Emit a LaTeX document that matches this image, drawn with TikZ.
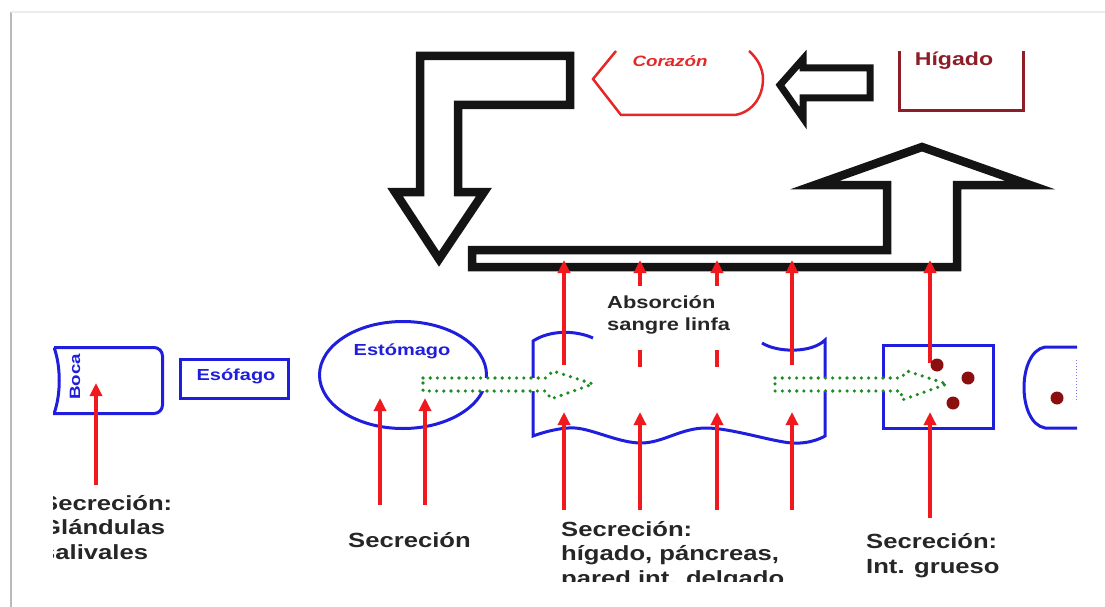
\documentclass[tikz,border=0pt]{standalone}
\usepackage{fontspec}
\setmainfont{Liberation Sans}[FakeStretch=1.25]
\usetikzlibrary{arrows.meta}
\definecolor{orgblue}{RGB}{30,30,220}
\definecolor{secred}{RGB}{240,25,30}
\definecolor{flowgreen}{RGB}{30,140,35}
\definecolor{heartred}{RGB}{228,40,40}
\definecolor{livered}{RGB}{140,30,40}
\definecolor{dotred}{RGB}{140,15,15}
\begin{document}
\begin{tikzpicture}[x=1pt,y=-1pt,
    hollow/.style={draw=black!92,line width=8.5pt,line join=miter},
    organ/.style={draw=orgblue,line width=3pt},
    secline/.style={draw=secred,line width=3.5pt},
    secarrow/.style={secline,-{Triangle[width=12pt,length=13pt]}},
    flow/.style={draw=flowgreen,fill=white,line width=3.6pt,line cap=round,dash pattern=on 0pt off 7.2pt},
    organlbl/.style={text=orgblue,font=\bfseries\fontsize{16}{19}\selectfont,inner sep=0pt},
    seclbl/.style={text=black!85,font=\bfseries\fontsize{20.5}{24.5}\selectfont,align=left,inner sep=0pt,anchor=base west},
  ]
\useasboundingbox (0,0) rectangle (1105,607);
% frame of the slide
\draw[gray!55,line width=2pt] (11,12) -- (11,607);
\draw[gray!15,line width=1.5pt] (11,12) -- (1105,12);

\begin{scope}
\clip (53,51) rectangle (1077,581);

% hollow arrows: absorption towards liver and heart
\draw[hollow] (420,192) -- (420,56) -- (570,56) -- (570,105) -- (458,105) -- (458,192)
  -- (484,192) -- (439,259) -- (395,192) -- cycle;
\draw[hollow] (472,250) -- (887,250) -- (887,185) -- (815,185) -- (922,147) -- (1030,185)
  -- (957,185) -- (957,267) -- (472,267) -- cycle;
\draw[hollow,line width=7pt] (870,68) -- (803,68) -- (803,59) -- (780,85) -- (803,118)
  -- (803,98) -- (870,98) -- cycle;

% heart and liver
\draw[heartred,line width=2.5pt] (616,51) -- (593,79) -- (621,115) -- (735,115)
  .. controls (753,112) and (763,96) .. (763,79) .. controls (763,68) and (757,58) .. (749,51);
\node[text=heartred,font=\bfseries\itshape\fontsize{15}{18}\selectfont] (corazon) at (670,61) {Corazón};
\draw[livered,line width=3pt] (899,51) -- (899,111) -- (1023,111) -- (1023,51);
\node[text=livered,font=\bfseries\fontsize{18.5}{22}\selectfont] (higado) at (954,61) {Hígado};

% digestive tract
\draw[organ] (54,347.5) -- (154,347.5) arc[start angle=-90,end angle=0,radius=8.5] -- (162.5,405)
  arc[start angle=0,end angle=90,radius=8.5] -- (54,413.5)
  .. controls (61,395) and (61,366) .. (54,347.5);
\node[organlbl,font=\bfseries\fontsize{15}{18}\selectfont,rotate=90] (boca) at (75,377) {Boca};
\draw[organ] (180.5,359.5) rectangle (288.5,398.5);
\node[organlbl] (esofago) at (236,376) {Esófago};
\draw[organ] (403,375) ellipse [x radius=83.5,y radius=53.5];
\node[organlbl] (estomago) at (402,351) {Estómago};
\draw[organ] (593,338) .. controls (575,330) and (550,330) .. (533,341)
  -- plot[smooth,tension=0.6] coordinates {(533,436) (575,428) (641,443) (706,428) (792,443) (825,436)}
  -- (825,340) .. controls (812,353) and (778,353) .. (762,343);
\draw[organ] (883,345) rectangle (993,428);
\draw[organ] (1077,347) -- (1045,347) .. controls (1017,352) and (1017,423) .. (1045,428) -- (1077,428);
\draw[orgblue!60,line width=1pt,dotted] (1076,360) -- (1076,402);

% flow of the food
\draw[flow] (423,378) -- (546,378) -- (553,371) -- (593,384) -- (551,399) -- (546,391) -- (423,391) -- cycle;
\draw[flow] (775,378) -- (901,378) -- (907,371) -- (947,384) -- (902,400) -- (901,391) -- (775,391) -- cycle;

% secretions
\draw[secarrow] (96,485) -- (96,383);
\draw[secarrow] (380,505) -- (380,398);
\draw[secarrow] (425,505) -- (425,398);
\foreach \x in {564,640,717,792}
  \draw[secarrow] (\x,510) -- (\x,412);
\draw[secarrow] (930,518) -- (930,412);

% absorption
\draw[secarrow] (564,365) -- (564,260);
\draw[secarrow] (792,365) -- (792,260);
\draw[secarrow] (930,363) -- (930,260);
\foreach \x in {640,717}{
  \draw[secarrow] (\x,286) -- (\x,260);
  \draw[secline] (\x,350) -- (\x,367);
}
\node[seclbl,font=\bfseries\fontsize{17.5}{22}\selectfont] (absorcion) at (607,330) {Absorción\\sangre linfa};

% faeces
\foreach \p in {(937,365),(968,378),(953,403),(1057,398)}
  \fill[dotred] \p circle[radius=6.5];

% labels of the secretions (base = last line)
\node[seclbl] (secboca) at (41,559) {Secreción:\\Glándulas\\salivales};
\node[seclbl] (secestomago) at (348,547) {Secreción};
\node[seclbl] (secdelgado) at (561,585) {Secreción:\\hígado, páncreas,\\pared int. delgado};
\node[seclbl] (secgrueso) at (866,573) {Secreción:\\Int. grueso};
\end{scope}
\end{tikzpicture}
\end{document}
